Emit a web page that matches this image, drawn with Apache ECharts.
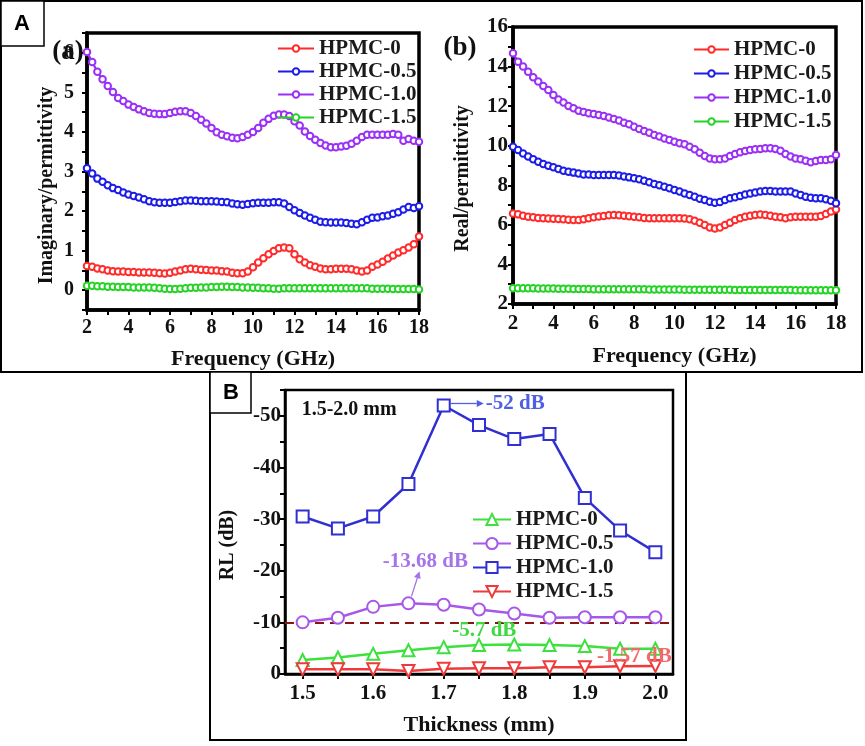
<!DOCTYPE html>
<html><head><meta charset="utf-8">
<script src="https://cdn.jsdelivr.net/npm/echarts/dist/echarts.min.js"></script>
<style>html,body{margin:0;padding:0;background:#fff}#c{width:865px;height:746px}</style>
</head><body><div id="c"></div>
<script>
// ---------- data ----------
const freq = [2,2.25,2.5,2.75, 3,3.25,3.5,3.75, 4,4.25,4.5,4.75, 5,5.25,5.5,5.75,
  6,6.25,6.5,6.75, 7,7.25,7.5,7.75, 8,8.25,8.5,8.75, 9,9.25,9.5,9.75,
  10,10.25,10.5,10.75, 11,11.25,11.5,11.75, 12,12.25,12.5,12.75, 13,13.25,13.5,13.75,
  14,14.25,14.5,14.75, 15,15.25,15.5,15.75, 16,16.25,16.5,16.75, 17,17.25,17.5,17.75, 18];

// (a) imaginary permittivity
const imHPMC0 = [0.61,0.59,0.55,0.53, 0.50,0.48,0.47,0.47, 0.46,0.46,0.45,0.45, 0.45,0.44,0.43,0.42,
  0.44,0.47,0.50,0.53, 0.54,0.53,0.52,0.51, 0.50,0.50,0.48,0.47, 0.44,0.43,0.43,0.47,
  0.58,0.70,0.81,0.91, 0.99,1.06,1.08,1.06, 0.91,0.78,0.70,0.63, 0.59,0.55,0.53,0.53,
  0.54,0.54,0.54,0.53, 0.50,0.47,0.50,0.59, 0.65,0.72,0.80,0.88, 0.95,1.01,1.08,1.16, 1.36];
const imHPMC05 = [3.08,2.95,2.82,2.74, 2.65,2.58,2.53,2.47, 2.42,2.38,2.34,2.30, 2.25,2.22,2.21,2.21,
  2.21,2.23,2.25,2.27, 2.27,2.26,2.25,2.25, 2.25,2.24,2.23,2.22, 2.19,2.17,2.16,2.18,
  2.20,2.21,2.21,2.21, 2.22,2.22,2.19,2.10, 2.02,1.95,1.89,1.83, 1.78,1.73,1.72,1.71,
  1.71,1.71,1.70,1.68, 1.67,1.72,1.78,1.83, 1.84,1.87,1.89,1.93, 1.97,2.04,2.10,2.08, 2.12];
const imHPMC10 = [6.02,5.77,5.52,5.33, 5.16,5.01,4.86,4.78, 4.69,4.63,4.57,4.52, 4.48,4.46,4.45,4.45,
  4.48,4.51,4.52,4.52, 4.48,4.40,4.31,4.21, 4.10,3.99,3.93,3.89, 3.85,3.84,3.87,3.93,
  4.00,4.10,4.23,4.33, 4.41,4.44,4.44,4.40, 4.27,4.16,4.01,3.90, 3.80,3.72,3.66,3.61,
  3.61,3.63,3.65,3.70, 3.78,3.87,3.93,3.93, 3.93,3.93,3.93,3.95, 3.93,3.78,3.82,3.78, 3.75];
const imHPMC15 = [0.11,0.11,0.10,0.10, 0.09,0.09,0.08,0.08, 0.08,0.07,0.07,0.07, 0.07,0.06,0.05,0.04,
  0.03,0.03,0.04,0.05, 0.06,0.06,0.07,0.07, 0.08,0.08,0.09,0.09, 0.08,0.08,0.07,0.07,
  0.06,0.06,0.05,0.05, 0.04,0.04,0.05,0.05, 0.05,0.05,0.05,0.05, 0.05,0.05,0.05,0.05,
  0.05,0.05,0.05,0.05, 0.05,0.05,0.05,0.04, 0.04,0.04,0.04,0.03, 0.03,0.03,0.03,0.03, 0.02];

// (b) real permittivity
const reHPMC0 = [6.58,6.53,6.46,6.41, 6.38,6.35,6.33,6.32, 6.31,6.30,6.28,6.26, 6.25,6.25,6.28,6.33,
  6.38,6.42,6.45,6.48, 6.50,6.48,6.46,6.44, 6.41,6.38,6.35,6.33, 6.33,6.33,6.33,6.33,
  6.34,6.34,6.32,6.28, 6.21,6.11,5.99,5.87, 5.82,5.87,5.99,6.11, 6.25,6.33,6.41,6.46,
  6.50,6.52,6.50,6.46, 6.41,6.38,6.33,6.38, 6.41,6.41,6.41,6.41, 6.41,6.45,6.55,6.67, 6.78];
const reHPMC05 = [9.95,9.78,9.61,9.45, 9.31,9.19,9.08,8.99, 8.91,8.82,8.74,8.69, 8.64,8.59,8.55,8.54,
  8.52,8.52,8.52,8.52, 8.52,8.49,8.44,8.40, 8.35,8.30,8.23,8.15, 8.06,8.00,7.93,7.85,
  7.76,7.68,7.59,7.51, 7.42,7.32,7.26,7.17, 7.12,7.15,7.26,7.34, 7.39,7.46,7.53,7.59,
  7.63,7.68,7.71,7.71, 7.69,7.68,7.69,7.68, 7.59,7.51,7.42,7.37, 7.34,7.34,7.29,7.22, 7.09];
const reHPMC10 = [14.67,14.25,14.00,13.74, 13.46,13.24,13.02,12.82, 12.56,12.34,12.18,12.01, 11.89,11.77,11.70,11.64,
  11.60,11.55,11.50,11.43, 11.35,11.27,11.16,11.08, 10.96,10.84,10.74,10.66, 10.54,10.46,10.37,10.29,
  10.20,10.12,10.07,9.95, 9.82,9.65,9.48,9.36, 9.31,9.31,9.36,9.48, 9.58,9.67,9.73,9.78,
  9.82,9.83,9.87,9.87, 9.83,9.75,9.58,9.45, 9.36,9.31,9.24,9.16, 9.23,9.28,9.28,9.31, 9.53];
const reHPMC15 = [2.80,2.80,2.79,2.79, 2.79,2.78,2.78,2.78, 2.78,2.77,2.77,2.77, 2.76,2.76,2.76,2.76,
  2.75,2.75,2.75,2.75, 2.75,2.74,2.74,2.74, 2.74,2.74,2.74,2.73, 2.73,2.73,2.73,2.73,
  2.73,2.73,2.72,2.72, 2.72,2.72,2.72,2.72, 2.72,2.72,2.72,2.72, 2.71,2.71,2.71,2.71,
  2.71,2.71,2.71,2.71, 2.71,2.71,2.71,2.71, 2.70,2.70,2.70,2.70, 2.70,2.70,2.70,2.70, 2.70];

// (B) reflection loss vs thickness
const thickness = ['1.5','1.55','1.6','1.65','1.7','1.75','1.8','1.85','1.9','1.95','2.0'];
const rlHPMC0  = [-2.7,-3.2,-3.9,-4.6,-5.2,-5.6,-5.7,-5.6,-5.4,-4.9,-4.9];
const rlHPMC05 = [-10.0,-10.9,-13.0,-13.68,-13.4,-12.5,-11.7,-10.9,-11.0,-11.0,-11.0];
const rlHPMC10 = [-30.5,-28.2,-30.5,-36.8,-52.0,-48.2,-45.5,-46.5,-34.1,-27.8,-23.6];
const rlHPMC15 = [-0.9,-0.9,-0.9,-0.6,-1.0,-1.1,-1.1,-1.3,-1.3,-1.5,-1.57];
const legendNames = ['HPMC-0','HPMC-0.5','HPMC-1.0','HPMC-1.5'];

// ---------- chart ----------
const SERIF = 'Liberation Serif';
const chart = echarts.init(document.getElementById('c'), null, {renderer: 'canvas'});
const pair = arr => freq.map((f, i) => [f, arr[i]]);
const intOnly = v => Math.abs(v - Math.round(v)) < 1e-6 ? String(Math.round(v)) : '';
const evenOnly = v => (Math.abs(v - Math.round(v)) < 1e-6 && Math.round(v) % 2 === 0) ? String(Math.round(v)) : '';
const tenOnly = v => (Math.abs(v / 10 - Math.round(v / 10)) < 1e-6) ? String(Math.round(v)) : '';

const axisCommon = (w, nameSize, pad) => ({
  axisLine: {show: true, onZero: false, lineStyle: {color: '#000', width: w}},
  axisTick: {show: true, inside: false, length: 5, lineStyle: {color: '#000', width: 2}},
  splitLine: {show: false},
  nameMoveOverlap: false,
  nameLocation: 'middle',
  nameTextStyle: {fontFamily: SERIF, fontWeight: 'bold', fontSize: nameSize, color: '#111', padding: pad || 0},
});
const lbl = (m, fmt, size) => ({margin: m, formatter: fmt, fontFamily: SERIF, fontWeight: 'bold', fontSize: size || 20, color: '#111'});

const C = {red: '#ff2b2b', blue: '#1c1ce8', purple: '#9a30f5', green: '#25d325'};
const B = {green: '#3de03d', purple: '#a658ea', blue: '#2f2fd2', red: '#ee3a3a'};

function dense(name, data, color, xi) {
  return {name, type: 'line', xAxisIndex: xi, yAxisIndex: xi, data,
    symbol: 'emptyCircle', symbolSize: 6.5, showAllSymbol: true,
    lineStyle: {color, width: 2.2}, itemStyle: {color, borderWidth: 1.6}};
}
function rlSeries(name, data, color, symbol, rot) {
  return {name, type: 'line', xAxisIndex: 2, yAxisIndex: 2, data,
    symbol, symbolSize: 12, symbolRotate: rot || 0, showAllSymbol: true,
    lineStyle: {color, width: 2.5}, itemStyle: {color, borderWidth: 1.3}, z: 3};
}
const legendStyle = {fontFamily: SERIF, fontWeight: 'bold', fontSize: 21, color: '#1a1a1a', lineHeight: 20};

const option = {
  animation: false,
  backgroundColor: '#fff',
  grid: [
    {left: 87, top: 33, width: 332, height: 277, show: true, borderColor: '#000', borderWidth: 3.5, outerBoundsMode: 'none'},
    {left: 513, top: 27, width: 323, height: 277, show: true, borderColor: '#000', borderWidth: 3.5, outerBoundsMode: 'none'},
    {left: 285, top: 390, width: 388, height: 284, show: true, borderColor: '#000', borderWidth: 2.5, outerBoundsMode: 'none'}
  ],
  xAxis: [
    Object.assign(axisCommon(3.5, 22), {type: 'value', gridIndex: 0, min: 2, max: 18, interval: 1,
      name: 'Frequency (GHz)', nameGap: 38, axisLabel: lbl(8, evenOnly, 20)}),
    Object.assign(axisCommon(3.5, 22), {type: 'value', gridIndex: 1, min: 2, max: 18, interval: 1,
      name: 'Frequency (GHz)', nameGap: 41, axisLabel: lbl(9, evenOnly, 21)}),
    Object.assign(axisCommon(2.5, 22), {type: 'category', gridIndex: 2, data: thickness, boundaryGap: true,
      axisTick: {show: true, inside: false, length: 5, alignWithLabel: true, interval: 0, lineStyle: {color: '#000', width: 2}},
      name: 'Thickness (mm)', nameGap: 40, axisLabel: Object.assign(lbl(9, null, 21), {interval: 1, formatter: null})})
  ],
  yAxis: [
    Object.assign(axisCommon(3.5, 20, [0, 28, 0, 0]), {type: 'value', gridIndex: 0, min: -0.5, max: 6.5, interval: 0.5,
      name: 'Imaginary/permittivity', nameGap: 30, axisLabel: lbl(13, intOnly, 20)}),
    Object.assign(axisCommon(3.5, 20, [0, 26, 0, 0]), {type: 'value', gridIndex: 1, min: 2, max: 16, interval: 1,
      name: 'Real/permittivity', nameGap: 40, axisLabel: lbl(5, evenOnly, 21)}),
    Object.assign(axisCommon(2.5, 20, [0, 26, 0, 0]), {type: 'value', gridIndex: 2, min: -55, max: 0, interval: 5, inverse: true,
      name: 'RL (dB)', nameGap: 47, axisLabel: lbl(4, tenOnly, 21)})
  ],
  legend: [
    {orient: 'vertical', left: 272, top: 33, itemWidth: 36, itemHeight: 8, itemGap: 2,
      data: legendNames, textStyle: legendStyle},
    {orient: 'vertical', left: 688, top: 34, itemWidth: 35, itemHeight: 8, itemGap: 3,
      data: legendNames.map(n => n + ' '), textStyle: legendStyle},
    {orient: 'vertical', left: 467, top: 504, itemWidth: 38, itemHeight: 14, itemGap: 3,
      data: legendNames.map(n => n + '  '), textStyle: legendStyle}
  ],
  series: [
    dense('HPMC-0', pair(imHPMC0), C.red, 0),
    dense('HPMC-0.5', pair(imHPMC05), C.blue, 0),
    dense('HPMC-1.0', pair(imHPMC10), C.purple, 0),
    dense('HPMC-1.5', pair(imHPMC15), C.green, 0),
    dense('HPMC-0 ', pair(reHPMC0), C.red, 1),
    dense('HPMC-0.5 ', pair(reHPMC05), C.blue, 1),
    dense('HPMC-1.0 ', pair(reHPMC10), C.purple, 1),
    dense('HPMC-1.5 ', pair(reHPMC15), C.green, 1),
    rlSeries('HPMC-0  ', rlHPMC0, B.green, 'emptyTriangle'),
    Object.assign(rlSeries('HPMC-0.5  ', rlHPMC05, B.purple, 'emptyCircle'), {
      markLine: {silent: true, symbol: 'none', label: {show: false}, z: 1,
        lineStyle: {color: '#8b1414', type: [9, 6], width: 2}, data: [{yAxis: -10}]}}),
    rlSeries('HPMC-1.0  ', rlHPMC10, B.blue, 'emptyRect'),
    rlSeries('HPMC-1.5  ', rlHPMC15, B.red, 'emptyTriangle', 180)
  ]
};
chart.setOption(option);

// ---------- annotations anchored on data points ----------
const px = (cat, v) => chart.convertToPixel({xAxisIndex: 2, yAxisIndex: 2}, [cat, v]);
const txt = (text, x, y, color, size, align) => ({type: 'text', x, y, z: 50,
  style: {text, fill: color, font: `bold ${size}px "${SERIF}"`, textAlign: align || 'center', textVerticalAlign: 'middle'}});
function arrow(x1, y1, x2, y2, color) {
  const a = Math.atan2(y2 - y1, x2 - x1), L = 7, W = 3.5;
  const bx = x2 - L * Math.cos(a), by = y2 - L * Math.sin(a);
  return [
    {type: 'line', z: 50, shape: {x1, y1, x2: bx, y2: by}, style: {stroke: color, lineWidth: 1.3}},
    {type: 'polygon', z: 50, shape: {points: [[x2, y2], [bx - W * Math.sin(a), by + W * Math.cos(a)], [bx + W * Math.sin(a), by - W * Math.cos(a)]]}, style: {fill: color}}
  ];
}
const p52 = px('1.7', -52);
const p1368 = px('1.65', -13.68);
const p57 = px('1.8', -5.7);
const p157 = px('2.0', -1.57);
const gB = px('1.5', -55);

const graphics = [
  {type: 'rect', z: 0, shape: {x: 1, y: 1, width: 861, height: 371}, style: {fill: 'none', stroke: '#000', lineWidth: 2}},
  {type: 'rect', z: 0, shape: {x: 1, y: 1, width: 43, height: 45}, style: {fill: '#fff', stroke: '#000', lineWidth: 1.5}},
  {type: 'text', z: 10, x: 22, y: 24, style: {text: 'A', fill: '#000', font: 'bold 22px "Liberation Sans"', textAlign: 'center', textVerticalAlign: 'middle'}},
  {type: 'rect', z: 0, shape: {x: 210, y: 372, width: 476, height: 368}, style: {fill: 'none', stroke: '#000', lineWidth: 2}},
  {type: 'rect', z: 0, shape: {x: 210, y: 372, width: 41, height: 41}, style: {fill: '#fff', stroke: '#000', lineWidth: 1.5}},
  {type: 'text', z: 10, x: 231, y: 393, style: {text: 'B', fill: '#000', font: 'bold 22px "Liberation Sans"', textAlign: 'center', textVerticalAlign: 'middle'}},
  txt('(a)', 68, 52, '#111', 27),
  txt('(b)', 460, 48, '#111', 27),
  txt('1.5-2.0 mm', gB[0] - 1, 410, '#111', 20, 'left'),
  txt('-52 dB', p52[0] + 42, p52[1] - 2, '#4e5ee6', 21, 'left'),
  ...arrow(p52[0] + 7, p52[1] - 2, p52[0] + 40, p52[1] - 2, '#4e5ee6'),
  txt('-13.68 dB', p1368[0] + 17, p1368[1] - 42, '#a673e8', 21),
  ...arrow(p1368[0] + 3, p1368[1] - 7, p1368[0] + 11, p1368[1] - 32, '#a673e8'),
  txt('-5.7 dB', p57[0] - 30, p57[1] - 14, '#3fd83f', 21),
  txt('-1.57 dB', p157[0] - 21, p157[1] - 9, '#ef6a6a', 21)
];
chart.setOption({graphic: graphics});
</script>
</body></html>
